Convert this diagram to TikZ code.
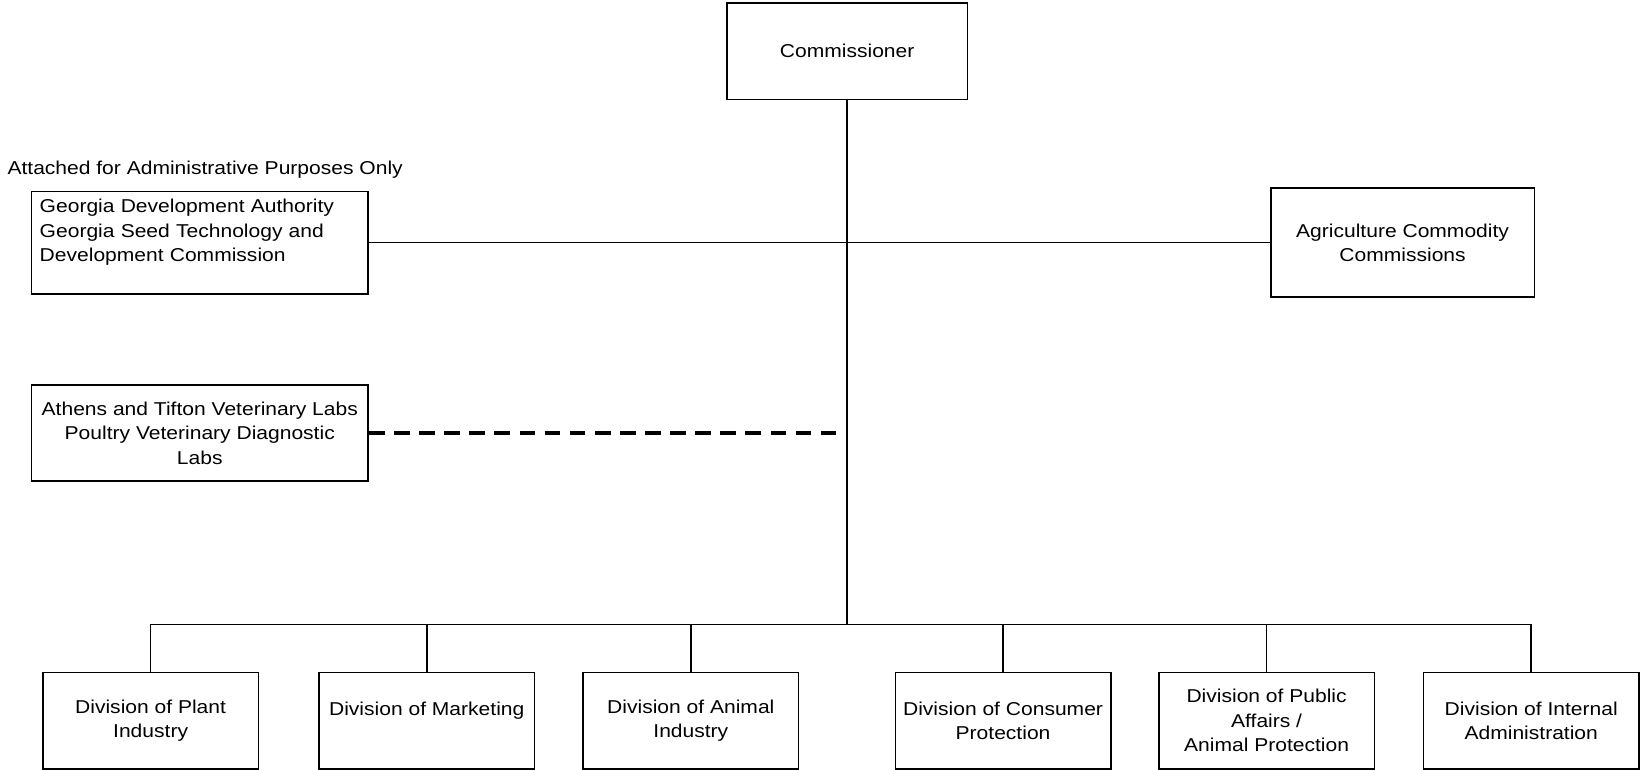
\documentclass[tikz,border=0pt]{standalone}
\usepackage{fontspec}
\setmainfont{Liberation Sans}[FakeStretch=1.13]
\begin{document}
\begin{tikzpicture}[x=1pt,y=-1pt,
  box/.style={draw,line width=1.5pt,rectangle,inner sep=0pt,align=center,
    font=\fontsize{17.8}{23.5}\selectfont},
  conn/.style={line width=1.5pt},
  dashconn/.style={line width=3.2pt,dash pattern=on 15pt off 9pt}]
\useasboundingbox (0,0) rectangle (1568,736);
\node[box,minimum width=230pt,minimum height=92pt] (comm) at (810,49) {Commissioner};
\node[anchor=base west,inner sep=0pt,font=\fontsize{17.8}{23.5}\selectfont] (att) at (7,167) {Attached for Administrative Purposes Only};
\node[box,minimum width=322pt,minimum height=98pt,text width=306pt,align=left] (gda) at (191,232) {Georgia Development Authority\\Georgia Seed Technology and\\Development Commission\\\mbox{}};
\node[box,minimum width=252pt,minimum height=104pt] (acc) at (1341,232) {Agriculture Commodity\\Commissions};
\node[box,minimum width=322pt,minimum height=92pt] (vet) at (191,414) {Athens and Tifton Veterinary Labs\\Poultry Veterinary Diagnostic\\Labs};
\node[box,minimum width=206pt,minimum height=92pt] (d1) at (144,689) {Division of Plant\\Industry};
\node[box,minimum width=206pt,minimum height=92pt] (d2) at (408,689) {Division of Marketing\\\mbox{}};
\node[box,minimum width=206pt,minimum height=92pt] (d3) at (660.5,689) {Division of Animal\\Industry};
\node[box,minimum width=206pt,minimum height=92pt] (d4) at (959,689) {Division of Consumer\\Protection};
\node[box,minimum width=206pt,minimum height=92pt] (d5) at (1211,689) {Division of Public\\Affairs /\\Animal Protection};
\node[box,minimum width=206pt,minimum height=92pt] (d6) at (1464,689) {Division of Internal\\Administration};
\coordinate (jn) at (810,597);
\coordinate (dashend) at (803,414);
\draw[conn] (comm.south) -- (jn);
\draw[conn] (gda.east) -- (acc.west);
\draw[dashconn] (vet.east) -- (dashend);
\foreach \d in {d1,d2,d3,d4,d5,d6} \draw[conn] (jn) -| (\d.north);
\end{tikzpicture}
\end{document}
